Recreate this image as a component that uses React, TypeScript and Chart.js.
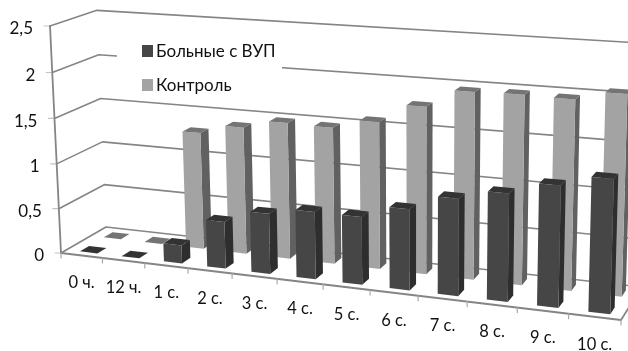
import { useEffect, useRef } from "react";
import { Chart, BarController, registerables } from "chart.js";

Chart.register(...registerables);

const categories = ["0 ч.", "12 ч.", "1 с.", "2 с.", "3 с.", "4 с.", "5 с.", "6 с.", "7 с.", "8 с.", "9 с.", "10 с."];
const patients = [0, 0, 0.2, 0.51, 0.65, 0.72, 0.72, 0.85, 1.01, 1.11, 1.24, 1.35];
const controls = [0, 0, 1.3, 1.4, 1.49, 1.48, 1.58, 1.78, 1.97, 1.98, 1.97, 2.06];
const patientsLabel = "Больные с ВУП";
const controlsLabel = "Контроль";

const FONT = "Lato, 'Open Sans', sans-serif";
const TEXT = "#111111";
const GRID = "#858585";

// Projective box: floor origin plus the far end of each edge, with the
// homogeneous weight that gives the perspective along that edge.
const ORIGIN = [61, 253];
const END_U = [621, 320];
const END_W = [106, 227];
const END_V = [50, 26];
const WEIGHT_U = -0.12;
const WEIGHT_W = 0.05;
const WEIGHT_V = -0.03;
// Bars sit a touch right of the category centre.
const BAR_SHIFT_U = 0.003;

const axisVector = (end: number[], weight: number) => [
  end[0] * (1 + weight) - ORIGIN[0],
  end[1] * (1 + weight) - ORIGIN[1],
  weight,
];
const VEC_U = axisVector(END_U, WEIGHT_U);
const VEC_W = axisVector(END_W, WEIGHT_W);
const VEC_V = axisVector(END_V, WEIGHT_V);

function project(u: number, w: number, v: number): [number, number] {
  const h = 1 + u * VEC_U[2] + w * VEC_W[2] + v * VEC_V[2];
  return [
    (ORIGIN[0] + u * VEC_U[0] + w * VEC_W[0] + v * VEC_V[0]) / h,
    (ORIGIN[1] + u * VEC_U[1] + w * VEC_W[1] + v * VEC_V[1]) / h,
  ];
}

function quad(ctx: CanvasRenderingContext2D, pts: [number, number][], fill: string) {
  ctx.fillStyle = fill;
  ctx.beginPath();
  pts.forEach((p, i) => (i ? ctx.lineTo(p[0], p[1]) : ctx.moveTo(p[0], p[1])));
  ctx.closePath();
  ctx.fill();
}

function polyline(ctx: CanvasRenderingContext2D, pts: [number, number][], color: string, width: number) {
  ctx.strokeStyle = color;
  ctx.lineWidth = width;
  ctx.beginPath();
  pts.forEach((p, i) => (i ? ctx.lineTo(p[0], p[1]) : ctx.moveTo(p[0], p[1])));
  ctx.stroke();
}

// Bar controller that keeps Chart.js layout but paints each element as a prism.
class Prism3DController extends BarController {
  static id = "prism3d";
  draw() {
    const meta: any = this.getMeta();
    const ctx: CanvasRenderingContext2D = (this as any).chart.ctx;
    const area = (this as any).chart.chartArea;
    const ds: any = this.getDataset();
    const [w0, w1] = ds.depthRange;
    for (const el of meta.data) {
      const u0 = (el.x - el.width / 2 - area.left) / area.width + BAR_SHIFT_U;
      const u1 = (el.x + el.width / 2 - area.left) / area.width + BAR_SHIFT_U;
      const v = (area.bottom - el.y) / area.height;
      if (v > 0) {
        quad(ctx, [project(u1, w0, 0), project(u1, w1, 0), project(u1, w1, v), project(u1, w0, v)], ds.sideColor);
        quad(ctx, [project(u0, w0, 0), project(u1, w0, 0), project(u1, w0, v), project(u0, w0, v)], ds.frontColor);
      }
      quad(ctx, [project(u0, w0, v), project(u1, w0, v), project(u1, w1, v), project(u0, w1, v)], ds.topColor);
    }
  }
}
Chart.register(Prism3DController);

const roomPlugin = {
  id: "room3d",
  beforeDatasetsDraw(chart: any) {
    const { ctx, chartArea: area } = chart;
    const yScale = chart.scales.y;
    const xScale = chart.scales.x;
    ctx.save();
    ctx.lineCap = "round";
    ctx.lineJoin = "round";
    // Wall gridlines: each one runs along the left wall, then across the back wall.
    for (const tick of yScale.ticks) {
      const v = (area.bottom - yScale.getPixelForValue(tick.value)) / area.height;
      polyline(ctx, [project(0, 0, v), project(0, 1, v), project(1, 1, v)], GRID, 1.6);
      const [tx, ty] = project(0, 0, v);
      polyline(ctx, [[tx - 6, ty], [tx, ty]], "#c4c4c4", 1.2);
    }
    polyline(ctx, [project(0, 0, 1), project(0, 0, 0), project(1, 0, 0), project(1, 1, 0)], GRID, 1.8);
    const half = (xScale.getPixelForValue(1) - xScale.getPixelForValue(0)) / 2;
    for (let i = 0; i <= categories.length; i++) {
      const u = (xScale.getPixelForValue(i) - half - area.left) / area.width;
      const [tx, ty] = project(u, 0, 0);
      polyline(ctx, [[tx, ty], [tx, ty + 5]], "#a8a8a8", 1.2);
    }
    // Legend panel hides the gridline running behind it.
    ctx.fillStyle = "#ffffff";
    ctx.fillRect(117, 36, 165, 58);
    ctx.restore();
  },
  afterDraw(chart: any) {
    const { ctx, chartArea: area } = chart;
    const yScale = chart.scales.y;
    const xScale = chart.scales.x;
    ctx.save();
    ctx.fillStyle = TEXT;
    ctx.textBaseline = "middle";
    ctx.font = `17px ${FONT}`;
    ctx.textAlign = "right";
    for (const tick of yScale.ticks) {
      const v = (area.bottom - yScale.getPixelForValue(tick.value)) / area.height;
      const [tx, ty] = project(0, 0, v);
      ctx.fillText(String(tick.value).replace(".", ","), tx - 17, ty + 3);
    }
    ctx.font = `16.5px ${FONT}`;
    ctx.textAlign = "center";
    categories.forEach((label, i) => {
      const u = (xScale.getPixelForValue(i) - area.left) / area.width;
      const [tx, ty] = project(u, 0, 0);
      ctx.fillText(label, tx, ty + 27.5);
    });
    ctx.textAlign = "left";
    ctx.font = `17px ${FONT}`;
    chart.data.datasets.forEach((ds: any, i: number) => {
      const cy = 51 + i * 34;
      ctx.fillStyle = ds.frontColor;
      ctx.fillRect(142, cy - 6, 11, 12);
      ctx.fillStyle = TEXT;
      ctx.fillText(ds.label, 156, cy + 1);
    });
    ctx.restore();
  },
};

export default function App() {
  const ref = useRef<HTMLCanvasElement | null>(null);
  useEffect(() => {
    if (!ref.current) return;
    const chart = new Chart(ref.current, {
      type: "prism3d" as any,
      data: {
        labels: categories,
        datasets: [
          {
            label: patientsLabel,
            data: patients,
            depthRange: [0.12, 0.32],
            frontColor: "#464646",
            sideColor: "#2e2e2e",
            topColor: "#333333",
          } as any,
          {
            label: controlsLabel,
            data: controls,
            depthRange: [0.65, 0.85],
            frontColor: "#a3a3a3",
            sideColor: "#616161",
            topColor: "#747474",
          } as any,
        ],
      },
      options: {
        responsive: false,
        animation: false,
        layout: { padding: 0 },
        datasets: { prism3d: { grouped: false, barPercentage: 0.42, categoryPercentage: 1 } } as any,
        scales: {
          x: { type: "category", display: false, offset: true },
          y: { type: "linear", display: false, min: 0, max: 2.5, ticks: { stepSize: 0.5 } },
        },
        plugins: { legend: { display: false }, tooltip: { enabled: false } },
      },
      plugins: [roomPlugin],
    });
    return () => chart.destroy();
  }, []);
  return (
    <canvas
      ref={ref}
      width={628}
      height={351}
      style={{ position: "fixed", left: 0, top: 0, background: "#ffffff" }}
    />
  );
}
